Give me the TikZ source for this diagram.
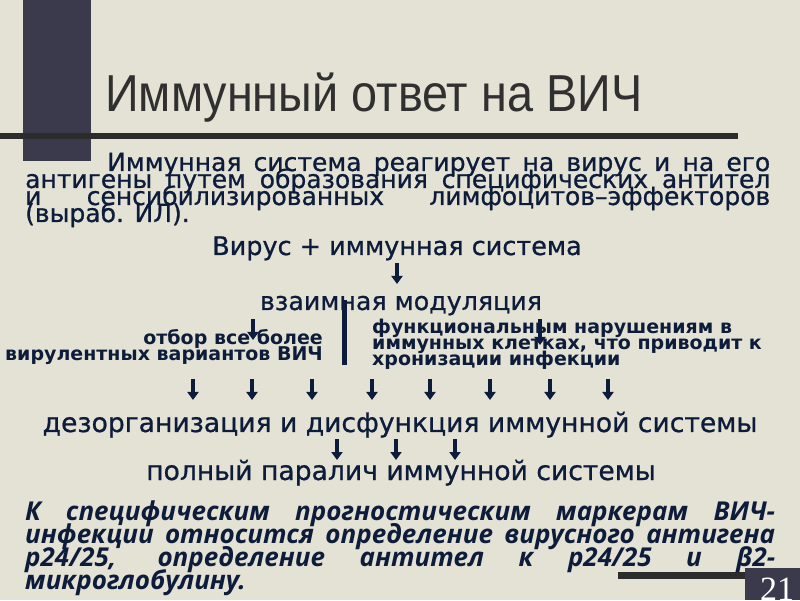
\documentclass[tikz,border=0pt]{standalone}
\usepackage{fontspec}
\usepackage{graphicx}
\usetikzlibrary{arrows.meta}
\newfontfamily\titlefont{Liberation Sans}
\newfontfamily\mainfont{DejaVu Sans}[FakeBold=0.8]
\newfontfamily\smallfont{DejaVu Sans}
\newfontfamily\itfont{Open Sans}
\newfontfamily\numfont{Liberation Serif}
\definecolor{bg}{HTML}{E4E2D5}
\definecolor{barc}{HTML}{3A3A4C}
\definecolor{rulec}{HTML}{2C2C2C}
\definecolor{ink}{HTML}{0D1C3A}
\definecolor{tink}{HTML}{303030}
\newcommand\myjust[2]{\spaceskip=0.318em plus 1fil\relax\hbox to #1{#2}}
\tikzset{
  para/.style={anchor=base west, inner sep=0pt, text=ink,
    font=\mainfont\fontsize{25}{25}\selectfont},
  mid/.style={anchor=base, inner sep=0pt, text=ink},
  small/.style={inner sep=0pt, text=ink, font=\smallfont\bfseries\fontsize{19}{19}\selectfont},
  bot/.style={anchor=base west, inner sep=0pt, text=ink,
    font=\itfont\bfseries\itshape\fontsize{26}{26}\selectfont},
  arr/.style={draw=ink, line width=3.2pt, -{Triangle[width=11pt,length=8pt]}}
}
\begin{document}
\begin{tikzpicture}[x=1pt,y=1pt]
\fill[bg] (0,0) rectangle (800,600);
\useasboundingbox (0,0) rectangle (800,600);
% title decoration
\fill[barc] (23,600) rectangle (91,439);
\fill[rulec] (0,467) rectangle (738,461);
\node[anchor=base west, inner sep=0pt, text=tink] (title) at (105,488)
  {\titlefont\fontsize{52}{52}\selectfont\scalebox{0.90}[1]{Иммунный ответ на ВИЧ}};
% paragraph
\node[para] (p1) at (107,429) {\myjust{663pt}{Иммунная система реагирует на вирус и на его}};
\node[para] (p2) at (25,412) {\myjust{745pt}{антигены путем образования специфических антител}};
\node[para] (p3) at (25,395) {\myjust{745pt}{и сенсибилизированных лимфоцитов–эффекторов}};
\node[para] (p4) at (25,378) {(выраб. ИЛ).};
% central scheme
\node[mid, font=\mainfont\fontsize{25.5}{25.5}\selectfont] (virus) at (397,345) {Вирус + иммунная система};
\node[mid, font=\mainfont\fontsize{25.3}{25.3}\selectfont] (modul) at (401,290) {взаимная модуляция};
\node[small, anchor=base east] (sel1) at (323,255) {отбор все более};
\node[small, anchor=base east] (sel2) at (323,239) {вирулентных вариантов ВИЧ};
\node[small, anchor=base west] (fun1) at (372,266) {функциональным нарушениям в};
\node[small, anchor=base west] (fun2) at (372,250) {иммунных клетках, что приводит к};
\node[small, anchor=base west] (fun3) at (372,234) {хронизации инфекции};
\node[mid, font=\mainfont\fontsize{26.6}{26.6}\selectfont] (dez) at (400,168) {дезорганизация и дисфункция иммунной системы};
\node[mid, font=\mainfont\fontsize{26.6}{26.6}\selectfont] (par) at (401,120) {полный паралич иммунной системы};
\fill[ink] (342,300) rectangle (347,235);
% arrows
\coordinate (v0) at (397,337); \coordinate (v1) at (397,316);
\draw[arr] (v0) -- (v1);
\coordinate (l0) at (253,281); \coordinate (l1) at (253,260);
\draw[arr] (l0) -- (l1);
\coordinate (r0) at (540,281); \coordinate (r1) at (540,255);
\draw[arr] (r0) -- (r1);
\foreach \x [count=\i] in {193,252,312,372,430,490,550,608}{
  \coordinate (a\i s) at (\x,221); \coordinate (a\i e) at (\x,200);
  \draw[arr] (a\i s) -- (a\i e);
}
\foreach \x [count=\i] in {337,396,455}{
  \coordinate (b\i s) at (\x,161); \coordinate (b\i e) at (\x,140);
  \draw[arr] (b\i s) -- (b\i e);
}
% bottom paragraph
\fill[rulec] (618,28) rectangle (745,21);
\fill[barc] (745,32) rectangle (800,0);
\node[bot] (q1) at (25,80) {\hbox to 750pt{\spaceskip=0.26em plus 1fil\relax К специфическим прогностическим маркерам ВИЧ-}};
\node[bot] (q2) at (25,57) {\hbox to 750pt{\spaceskip=0.26em plus 1fil\relax инфекции относится определение вирусного антигена}};
\node[bot] (q3) at (25,34) {\hbox to 750pt{\spaceskip=0.26em plus 1fil\relax р24/25, определение антител к р24/25 и β2-}};
\node[bot] (q4) at (25,11) {микроглобулину.};
\node[anchor=base, inner sep=0pt, text=white, font=\numfont\fontsize{34}{34}\selectfont] (num) at (777,0) {21};
\end{tikzpicture}
\end{document}
